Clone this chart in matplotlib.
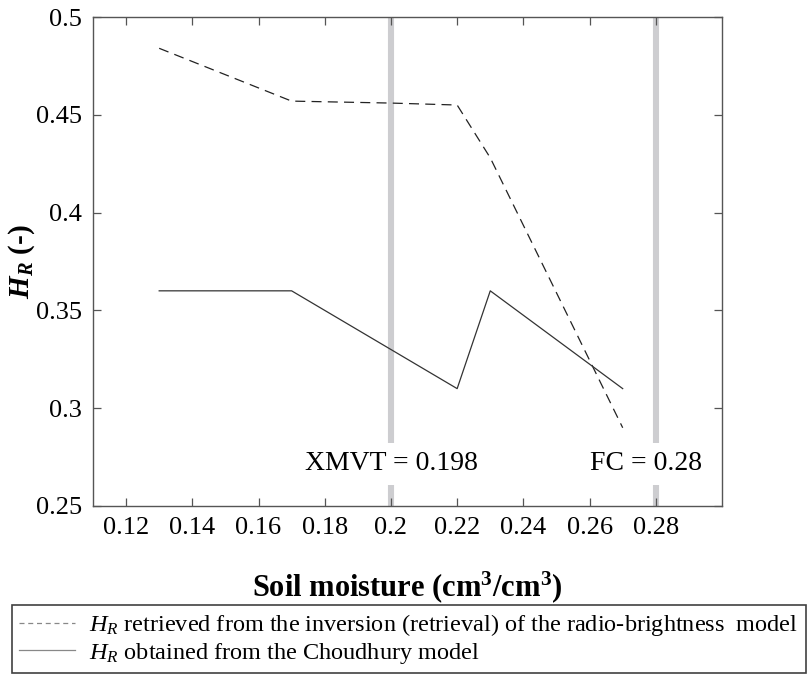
import matplotlib

matplotlib.use("Agg")
import matplotlib.pyplot as plt
from matplotlib.lines import Line2D
from matplotlib.ticker import FuncFormatter

# ── Data ──
soil_moisture = [0.13, 0.17, 0.20, 0.22, 0.23, 0.27]
hr_retrieved = [0.484, 0.457, 0.456, 0.455, 0.428, 0.290]
hr_choudhury = [0.36, 0.36, 0.33, 0.31, 0.36, 0.31]

xmvt = 0.198
fc = 0.28
ref_x = [0.20, 0.28]            # where the grey reference bars are drawn
ref_labels = [f"XMVT = {xmvt}", f"FC = {fc}"]
ref_label_x = [0.200, 0.277]
ref_label_y = 0.2715

x_ticks = [0.12, 0.14, 0.16, 0.18, 0.20, 0.22, 0.24, 0.26, 0.28]
y_ticks = [0.25, 0.30, 0.35, 0.40, 0.45, 0.50]

legend_labels = [
    r"$H_R$ retrieved from the inversion (retrieval) of the radio-brightness  model",
    r"$H_R$ obtained from the Choudhury model",
]

# ── Style ──
plt.rcParams.update({
    "font.family": "Liberation Serif",
    "mathtext.fontset": "custom",
    "mathtext.rm": "Liberation Serif",
    "mathtext.it": "Liberation Serif:italic",
    "mathtext.bf": "Liberation Serif:bold",
    "mathtext.bfit": "Liberation Serif:bold:italic",
})
AX_COL = "#555555"

fig = plt.figure(figsize=(8.07, 6.75), dpi=100)
ax = fig.add_axes([0.1152, 0.2504, 0.7795, 0.7244])

ax.vlines(ref_x, 0.25, 0.5, colors="#cdcdd0", linewidth=4.4, zorder=1)
ax.plot(soil_moisture, hr_retrieved, color="#222222", lw=0.9,
        linestyle=(0, (8, 5)), zorder=3)
ax.plot(soil_moisture, hr_choudhury, color="#333333", lw=0.9, zorder=3)

for lx, lab in zip(ref_label_x, ref_labels):
    ax.text(lx, ref_label_y, lab, fontsize=20, ha="center", va="center",
            zorder=4,
            bbox=dict(boxstyle="square,pad=0.32", fc="white", ec="none"))

ax.set_xlim(0.11, 0.30)
ax.set_ylim(0.25, 0.50)
ax.set_xticks(x_ticks)
ax.set_yticks(y_ticks)
fmt = FuncFormatter(lambda v, p: f"{v:g}")
ax.xaxis.set_major_formatter(fmt)
ax.yaxis.set_major_formatter(fmt)
ax.tick_params(direction="in", length=6, width=0.9, color=AX_COL,
               labelsize=19, top=True, right=True, pad=8)
for s in ax.spines.values():
    s.set_color(AX_COL)
    s.set_linewidth(1.0)

ax.set_xlabel(r"Soil moisture (cm$^\mathbf{3}$/cm$^\mathbf{3}$)",
              fontsize=22, fontweight="bold", labelpad=22)
ax.set_ylabel(r"$\mathbfit{H_R}$ (-)", fontsize=21, fontweight="bold",
              va="center")
ax.yaxis.set_label_coords(-0.113, 0.5)

handles = [
    Line2D([0], [0], color="#888888", lw=0.9, linestyle=(0, (4, 3))),
    Line2D([0], [0], color="#888888", lw=0.9),
]
leg = fig.legend(handles, legend_labels, loc="lower left",
                 bbox_to_anchor=(0.015, 0.003, 0.984, 0.105), mode="expand",
                 fontsize=17.5, frameon=True, fancybox=False,
                 handlelength=2.3, handletextpad=0.55, borderpad=0.3,
                 labelspacing=0.1, borderaxespad=0)
leg.get_frame().set_edgecolor("#111111")
leg.get_frame().set_linewidth(1.2)

fig.savefig("out.png", dpi=100, facecolor="white")
